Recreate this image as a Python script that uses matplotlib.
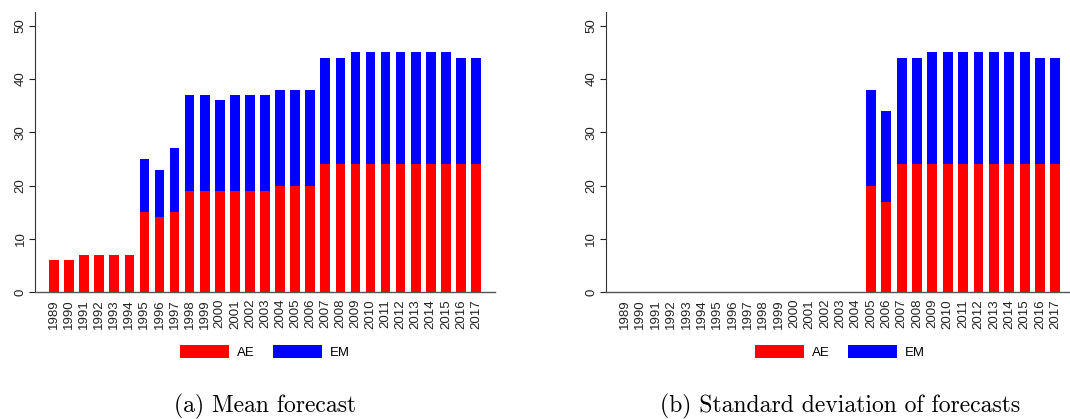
import matplotlib
matplotlib.use("Agg")
import matplotlib.pyplot as plt
import numpy as np
from matplotlib.patches import Patch

years = list(range(1989, 2018))
year_labels = [str(y) for y in years]

# Panel (a): mean forecast
ae_mean = [6, 6, 7, 7, 7, 7, 15, 14, 15, 19, 19, 19, 19, 19, 19, 20, 20, 20,
           24, 24, 24, 24, 24, 24, 24, 24, 24, 24, 24]
total_mean = [6, 6, 7, 7, 7, 7, 25, 23, 27, 37, 37, 36, 37, 37, 37, 38, 38, 38,
              44, 44, 45, 45, 45, 45, 45, 45, 45, 44, 44]

# Panel (b): standard deviation of forecasts
ae_sd = [0] * 16 + [20, 17, 24, 24, 24, 24, 24, 24, 24, 24, 24, 24, 24]
total_sd = [0] * 16 + [38, 34, 44, 44, 45, 45, 45, 45, 45, 45, 45, 44, 44]

em_mean = [t - a for t, a in zip(total_mean, ae_mean)]
em_sd = [t - a for t, a in zip(total_sd, ae_sd)]

captions = ["(a) Mean forecast", "(b) Standard deviation of forecasts"]

plt.rcParams['font.family'] = ['Liberation Sans', 'DejaVu Sans']

W, H = 1070, 419
fig = plt.figure(figsize=(W / 100, H / 100), dpi=100)

def px_axes(x0, x1, ytop, ybot):
    return fig.add_axes([x0 / W, (H - ybot) / H, (x1 - x0) / W, (ybot - ytop) / H])

ax1 = px_axes(35, 495, 12, 292)
ax2 = px_axes(605.7, 605.7 + 469, 12, 292)

red = "#ff0000"
blue = "#0000ff"

for ax, ae, em, cap in [(ax1, ae_mean, em_mean, captions[0]),
                        (ax2, ae_sd, em_sd, captions[1])]:
    x = np.arange(len(years))
    ax.bar(x, ae, width=0.64, color=red, linewidth=0)
    ax.bar(x, em, width=0.64, bottom=ae, color=blue, linewidth=0)
    ax.set_xlim(-1.26, len(years) - 1 + 1.26)
    ax.set_ylim(0, 52.6)
    ax.set_yticks([0, 10, 20, 30, 40, 50])
    ax.set_yticklabels(["0", "10", "20", "30", "40", "50"], rotation=90, va="center")
    ax.set_xticks(x)
    ax.set_xticklabels(year_labels, rotation=90)
    ax.tick_params(axis="x", length=0, pad=5, labelsize=9.5, colors="#222222")
    ax.tick_params(axis="y", length=4, width=0.8, pad=2, labelsize=9.5,
                   colors="#222222", direction="out")
    for s in ["top", "right"]:
        ax.spines[s].set_visible(False)
    ax.spines["left"].set_color("#333333")
    ax.spines["bottom"].set_color("#555555")
    ax.spines["left"].set_linewidth(0.8)
    ax.spines["bottom"].set_linewidth(1.0)
    handles = [Patch(facecolor=red, edgecolor="none", label="AE"),
               Patch(facecolor=blue, edgecolor="none", label="EM")]
    ax.legend(handles=handles, loc="center", bbox_to_anchor=(0.5, -0.214),
              ncol=2, frameon=False, fontsize=9.5, handlelength=3.7,
              handleheight=1.15, handletextpad=0.62, columnspacing=1.35,
              borderaxespad=0)
    ax.text(0.5, -0.407, cap, transform=ax.transAxes, ha="center", va="center",
            fontsize=17, family=["cmr10", "DejaVu Serif"])

fig.savefig("out.png", dpi=100)
